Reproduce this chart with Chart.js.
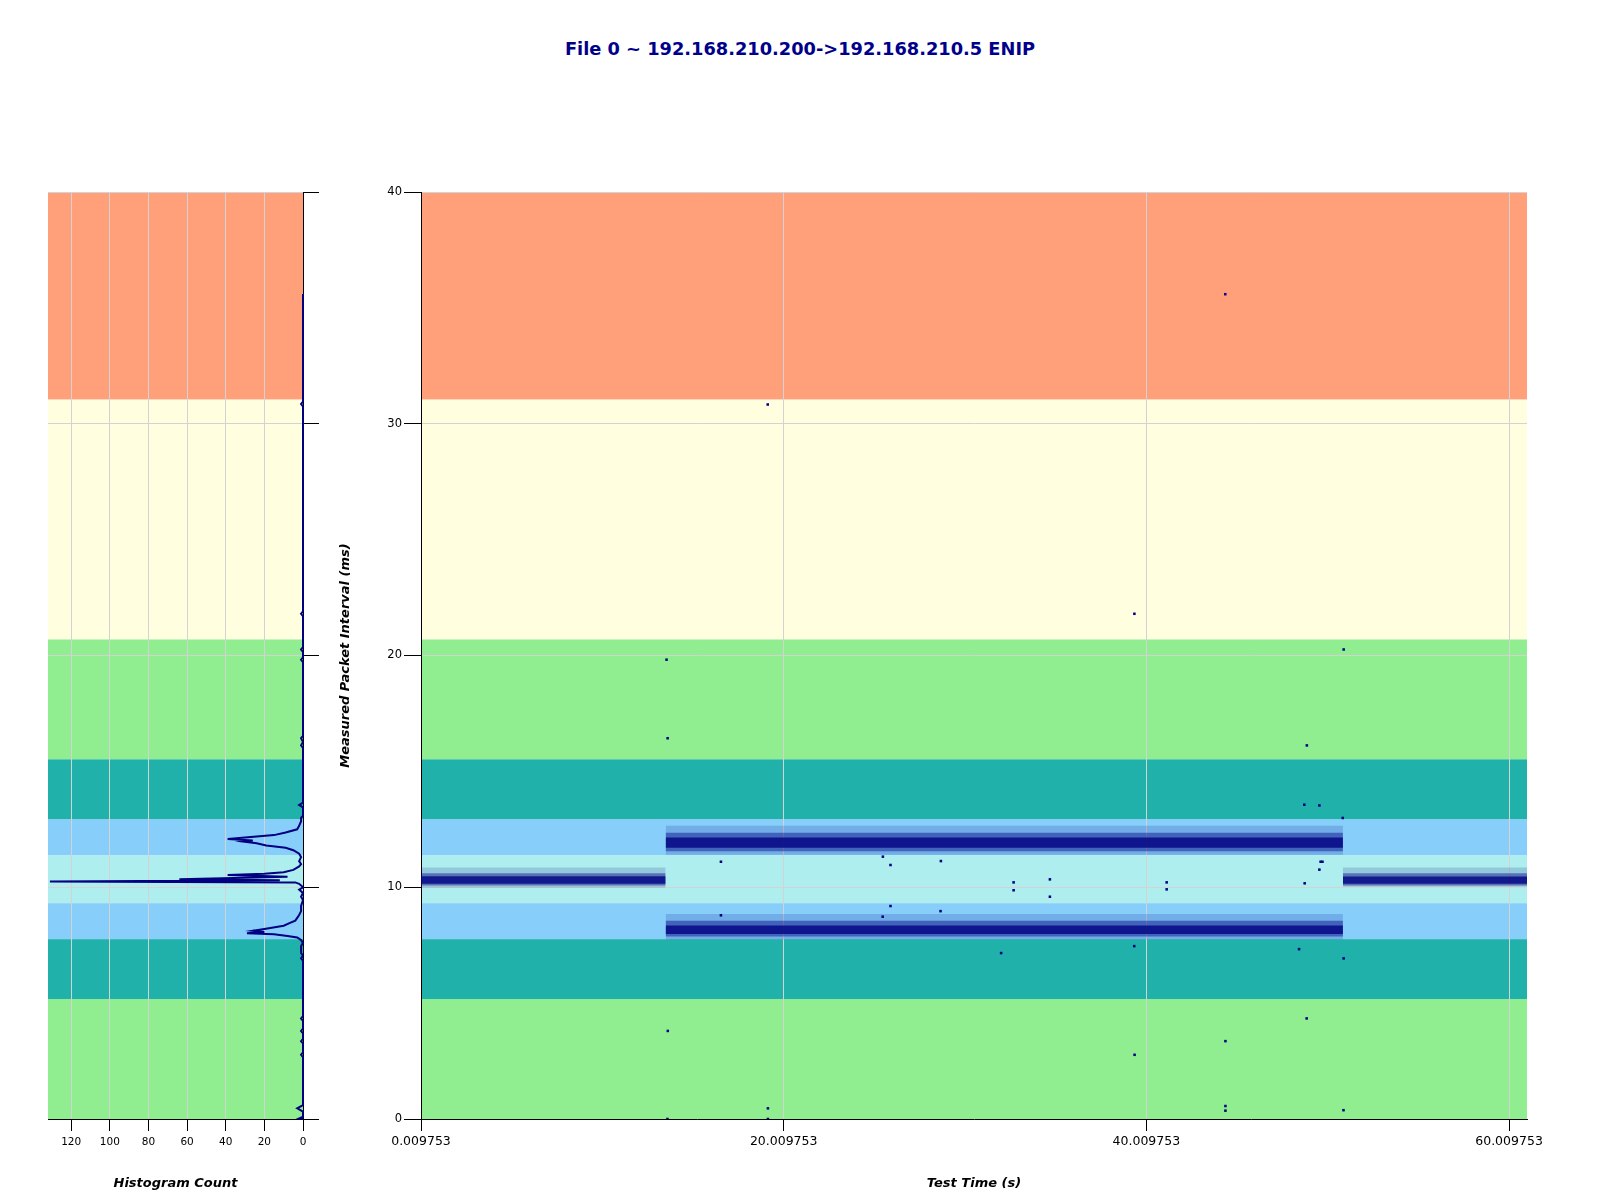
<!DOCTYPE html>
<html lang="en">

<head>
    <meta charset="UTF-8">
    <title>Packet Interval - File 0</title>
    <script src="https://cdn.jsdelivr.net/npm/chart.js"></script>
    <style>
        body { margin: 0; background: #fff; width: 1600px; height: 1200px; position: relative; overflow: hidden; }
        #title { position: absolute; left: 0; top: 38px; width: 1600px; text-align: center; font: bold 17.8px "DejaVu Sans", sans-serif; color: #00008B; line-height: 22px; }
        canvas { position: absolute; top: 0; }
    </style>
</head>

<body>
    <div id="title">File 0 ~ 192.168.210.200-&gt;192.168.210.5 ENIP</div>
    <canvas id="histChart" width="320" height="1200" style="left:0;width:320px;height:1200px"></canvas>
    <canvas id="timeChart" width="1280" height="1200" style="left:320px;width:1280px;height:1200px"></canvas>

    <script>
        // colour bands (ms), nominal interval ~10.35 ms
        const bandLow = [0, 5.175, 7.7625, 9.315, 11.385, 12.9375, 15.525, 20.7, 31.05];
        const bandHigh = [5.175, 7.7625, 9.315, 11.385, 12.9375, 15.525, 20.7, 31.05, 40];
        const bandColor = ['#90EE90', '#20B2AA', '#87CEFA', '#AFEEEE', '#87CEFA', '#20B2AA', '#90EE90', '#FFFFE0', '#FFA07A'];

        // x tick values of the test time axis (s)
        const timeTicks = [0.009753, 20.009753, 40.009753, 60.009753];

        // dense packet clusters: time span and interval spread (ms), three density levels
        const clusterStart = [0.009753, 13.5, 13.5, 50.85];
        const clusterEnd = [13.5, 50.85, 50.85, 61.0];
        const clusterEdgeLow = [9.98, 11.40, 7.75, 10.02];
        const clusterEdgeHigh = [10.85, 12.65, 8.85, 10.85];
        const clusterMidLow = [10.08, 11.55, 7.88, 10.08];
        const clusterMidHigh = [10.60, 12.35, 8.55, 10.60];
        const clusterCoreLow = [10.15, 11.70, 7.98, 10.15];
        const clusterCoreHigh = [10.48, 12.15, 8.35, 10.46];

        // isolated packets outside the clusters
        const outlierTime = [44.36, 19.13, 39.35, 13.55, 50.89, 13.61, 48.86, 48.72, 49.55, 50.84,
            28.68, 16.55, 25.48, 25.9, 32.69, 32.69, 34.69, 34.69, 41.13, 41.13,
            48.74, 49.55, 49.62, 49.72, 28.66, 16.55, 25.9, 25.47, 32.0, 39.34,
            48.43, 50.89, 13.62, 39.36, 44.37, 48.85, 44.37, 44.37, 19.14, 19.14,
            13.6, 50.88];
        const outlierMs = [35.59, 30.83, 21.8, 19.82, 20.26, 16.43, 16.12, 13.56, 13.53, 12.99,
            11.13, 11.1, 11.32, 10.96, 10.21, 9.87, 10.34, 9.59, 10.21, 9.91,
            10.17, 10.76, 11.1, 11.1, 8.97, 8.79, 9.19, 8.73, 7.16, 7.46,
            7.33, 6.93, 3.8, 2.77, 3.36, 4.34, 0.56, 0.36, 0.46, 0.0,
            0.0, 0.38];

        // histogram profile (interval ms -> count)
        const histMs = [35.6, 30.95, 30.85, 30.75, 21.9, 21.8, 21.7, 20.36, 20.26, 20.16,
            19.92, 19.82, 19.72, 16.53, 16.43, 16.27, 16.12, 16.02, 13.65, 13.55,
            13.45, 13.09, 12.99, 12.85, 12.65, 12.5, 12.36, 12.25, 12.15, 12.08,
            12.02, 11.97, 11.9, 11.8, 11.7, 11.6, 11.45, 11.3, 11.13, 11.0,
            10.9, 10.75, 10.65, 10.58, 10.53, 10.45, 10.35, 10.3, 10.25, 10.21,
            10.15, 10.08, 10.0, 9.9, 9.75, 9.59, 9.45, 9.19, 8.97, 8.8,
            8.68, 8.56, 8.45, 8.34, 8.2, 8.12, 8.07, 8.02, 7.97, 7.9,
            7.83, 7.72, 7.6, 7.46, 7.33, 7.16, 7.06, 6.93, 6.83, 4.44,
            4.34, 4.24, 3.9, 3.8, 3.7, 3.46, 3.36, 3.26, 2.87, 2.77,
            2.67, 0.6, 0.46, 0.32, 0.1, 0.02, 0];
        const histCount = [0, 0, 1, 0, 0, 1, 0, 0, 1, 0,
            0, 1, 0, 0, 1, 0, 1, 0, 0, 2,
            0, 0, 1, 1, 2, 3, 9, 15, 30, 39,
            26, 31, 24, 19, 9, 5, 2, 1, 2, 1,
            2, 5, 10, 20, 39, 8, 64, 12, 131, 4,
            2, 1, 0, 2, 0, 1, 0, 1, 1, 2,
            3, 4, 7, 10, 20, 26, 20, 29, 15, 8,
            3, 1, 0, 1, 1, 1, 0, 1, 0, 0,
            1, 0, 0, 1, 0, 0, 1, 0, 0, 1,
            0, 0, 3, 0, 0, 2, 0];

        const navy = '#000080';
        const gridGray = '#d3d3d3';
        Chart.defaults.font.family = '"DejaVu Sans", sans-serif';
        Chart.defaults.color = '#000';

        // paints the coloured interval bands behind grid and data
        const bandPlugin = {
            id: 'bands',
            beforeDraw(chart) {
                const { ctx, chartArea: a, scales: { y } } = chart;
                ctx.save();
                bandLow.forEach((lo, i) => {
                    const top = y.getPixelForValue(bandHigh[i]);
                    const bottom = y.getPixelForValue(lo);
                    ctx.fillStyle = bandColor[i];
                    ctx.fillRect(a.left, top, a.right - a.left, bottom - top);
                });
                ctx.restore();
            }
        };

        const axisTitleFont = { size: 13, weight: 'bold', style: 'italic' };

        // left: histogram
        new Chart(document.getElementById('histChart'), {
            type: 'scatter',
            data: {
                datasets: [{
                    data: histMs.map((v, i) => ({ x: histCount[i], y: v })),
                    showLine: true,
                    borderColor: navy,
                    borderWidth: 2,
                    pointRadius: 0,
                    clip: false
                }]
            },
            options: {
                responsive: false,
                animation: false,
                layout: { padding: { left: 48, right: 1, top: 192, bottom: 9 } },
                plugins: { legend: { display: false }, tooltip: { enabled: false } },
                scales: {
                    x: {
                        type: 'linear', reverse: true, min: 0, max: 132,
                        ticks: { stepSize: 20, includeBounds: false, font: { size: 10.5 }, padding: 5, maxRotation: 0 },
                        grid: { color: gridGray, tickColor: '#000', tickLength: 12 },
                        border: { color: '#000' },
                        title: { display: true, text: 'Histogram Count', font: axisTitleFont, padding: 0 },
                        afterFit: s => { s.height = 72; }
                    },
                    y: {
                        type: 'linear', position: 'right', min: 0, max: 40,
                        ticks: { stepSize: 10, callback: () => '' },
                        grid: { color: gridGray, tickColor: '#000', tickLength: 16 },
                        border: { color: '#000' },
                        afterFit: s => { s.width = 16; }
                    }
                }
            },
            plugins: [bandPlugin]
        });

        // right: packet interval over time
        const levels = [
            [clusterEdgeLow, clusterEdgeHigh, 'rgba(0, 0, 128, 0.16)'],
            [clusterMidLow, clusterMidHigh, 'rgba(0, 0, 128, 0.42)'],
            [clusterCoreLow, clusterCoreHigh, 'rgba(0, 0, 128, 0.78)']
        ];
        const clusterSets = [];
        clusterStart.forEach((x0, i) => {
            levels.forEach(([low, high, colour]) => {
                clusterSets.push({
                    type: 'line',
                    data: [{ x: x0, y: high[i] }, { x: clusterEnd[i], y: high[i] }],
                    fill: { value: low[i] },
                    backgroundColor: colour,
                    borderColor: 'transparent',
                    borderWidth: 0,
                    pointRadius: 0
                });
            });
        });

        new Chart(document.getElementById('timeChart'), {
            type: 'scatter',
            data: {
                datasets: [{
                    data: outlierTime.map((t, i) => ({ x: t, y: outlierMs[i] })),
                    pointStyle: 'rect',
                    pointRadius: 1.8,
                    borderWidth: 0,
                    backgroundColor: navy
                }, ...clusterSets]
            },
            options: {
                responsive: false,
                animation: false,
                layout: { padding: { left: 17.5, right: 73, top: 192, bottom: 9 } },
                plugins: { legend: { display: false }, tooltip: { enabled: false } },
                scales: {
                    x: {
                        type: 'linear', min: 0.009753, max: 61.0,
                        afterBuildTicks: s => { s.ticks = timeTicks.map(v => ({ value: v })); },
                        ticks: { callback: v => v.toFixed(6), font: { size: 12.5 }, padding: 3, maxRotation: 0, autoSkip: false },
                        grid: { color: gridGray, tickColor: '#000', tickLength: 12 },
                        border: { color: '#000' },
                        title: { display: true, text: 'Test Time (s)', font: axisTitleFont, padding: 0 },
                        afterFit: s => { s.height = 72; }
                    },
                    y: {
                        type: 'linear', min: 0, max: 40,
                        ticks: { stepSize: 10, font: { size: 11.5 }, padding: 2 },
                        grid: { color: gridGray, tickColor: '#000', tickLength: 17 },
                        border: { color: '#000' },
                        title: { display: true, text: 'Measured Packet Interval (ms)', font: axisTitleFont, padding: 0 },
                        afterFit: s => { s.width = 83.5; }
                    }
                }
            },
            plugins: [bandPlugin]
        });
    </script>
</body>

</html>
